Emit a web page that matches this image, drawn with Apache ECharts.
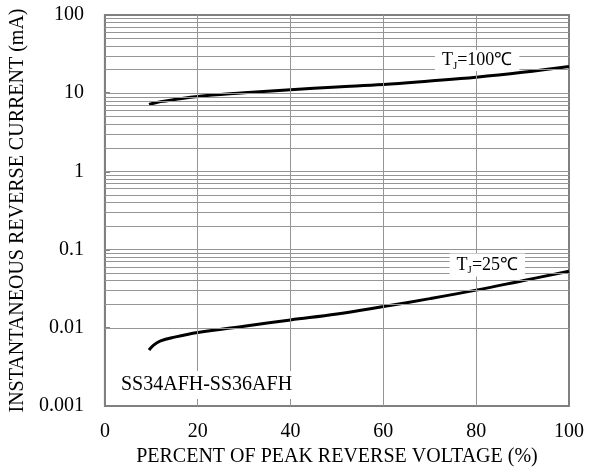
<!DOCTYPE html>
<html><head><meta charset="utf-8">
<script src="https://cdn.jsdelivr.net/npm/echarts@6/dist/echarts.min.js"></script>
<style>html,body{margin:0;padding:0;background:#fff}#c{width:597px;height:472px}</style>
</head><body><div id="c"></div>
<script>
// Percent of peak reverse voltage (%)
var pct = [9.5, 10.5, 12, 15, 20, 30, 40, 50, 60, 70, 80, 90, 100];
// Tj = 100 C reverse current (mA)
var i100 = [7.2, 7.45, 7.8, 8.3, 9.1, 10.1, 11.1, 12.0, 12.9, 14.3, 16.0, 18.5, 22];
// Tj = 25 C reverse current (mA)
var i25 = [0.0052, 0.0060, 0.0068, 0.0076, 0.0087, 0.0105, 0.0126, 0.0150, 0.0187, 0.0236, 0.0303, 0.040, 0.053];
var xTicks = [0, 20, 40, 60, 80, 100];
var yDecades = [0.001, 0.01, 0.1, 1, 10, 100];
var yMinorMult = [2, 3, 4, 5, 6, 7, 8, 9];
var label100 = {x: 80.2, y: 26.1, text: '{n|T}{s|J}{n|=100℃}'};
var label25 = {x: 82.4, y: 0.0634, text: '{n|T}{s|J}{n|=25℃}'};
var partLabel = {x: 21.9, y: 0.00185, text: 'SS34AFH-SS36AFH'};

var FONT = 'Liberation Serif';
var gridColor = '#959595';

var hLines = [];
for (var d = 0; d < yDecades.length - 1; d++) {
  hLines.push({yAxis: yDecades[d]});
  yMinorMult.forEach(function (m) { hLines.push({yAxis: +(yDecades[d] * m).toPrecision(3)}); });
}
var vLines = xTicks.slice(1, -1).map(function (v) { return {xAxis: v}; });

function zip(xs, ys) { return xs.map(function (x, i) { return [x, ys[i]]; }); }

var rich = {
  n: {fontFamily: FONT, fontSize: 18, color: '#000'},
  s: {fontFamily: FONT, fontSize: 11, color: '#000', padding: [10, 0, 0, 0]}
};

var chart = echarts.init(document.getElementById('c'), null, {renderer: 'canvas'});
chart.setOption({
  animation: false,
  backgroundColor: '#fff',
  grid: {left: 104, right: 28, top: 15, bottom: 63, show: true, borderColor: '#808080', borderWidth: 2},
  xAxis: {
    type: 'value', min: 0, max: 100, interval: 20,
    name: 'PERCENT OF PEAK REVERSE VOLTAGE (%)', nameLocation: 'middle', nameGap: 41,
    nameTextStyle: {fontFamily: FONT, fontSize: 20, color: '#000'},
    axisLine: {show: true, lineStyle: {color: '#808080', width: 2}},
    axisTick: {show: false},
    axisLabel: {fontFamily: FONT, fontSize: 20, color: '#000', margin: 16},
    splitLine: {show: false}
  },
  yAxis: {
    type: 'log', logBase: 10, min: 0.001, max: 100,
    name: 'INSTANTANEOUS REVERSE CURRENT (mA)', nameLocation: 'middle', nameGap: 66,
    nameTextStyle: {fontFamily: FONT, fontSize: 20, color: '#000'},
    axisLine: {show: true, lineStyle: {color: '#808080', width: 2}},
    axisTick: {show: true, inside: true, length: 5, lineStyle: {color: '#808080', width: 2}},
    axisLabel: {fontFamily: FONT, fontSize: 20, color: '#000', margin: 21,
      formatter: function (v) { return String(+v.toPrecision(3)); }},
    splitLine: {show: false}
  },
  series: [
    {
      type: 'line', data: [], z: 1, silent: true,
      markLine: {
        silent: true, symbol: 'none', label: {show: false}, animation: false,
        lineStyle: {color: gridColor, width: 1, type: 'solid'},
        data: hLines.concat(vLines)
      }
    },
    {
      type: 'line', data: zip(pct, i100), smooth: 0.4, showSymbol: false, z: 3,
      lineStyle: {color: '#000', width: 3},
      markPoint: {
        symbol: 'circle', symbolSize: 1, itemStyle: {color: 'rgba(0,0,0,0)'}, silent: true,
        data: [
          {coord: [label100.x, label100.y], value: 0,
            label: {show: true, position: 'inside', formatter: label100.text, backgroundColor: '#fff',
              padding: [0, 7, 0, 7], rich: rich}}
        ]
      }
    },
    {
      type: 'line', data: zip(pct, i25), smooth: 0.4, showSymbol: false, z: 3,
      lineStyle: {color: '#000', width: 3},
      markPoint: {
        symbol: 'circle', symbolSize: 1, itemStyle: {color: 'rgba(0,0,0,0)'}, silent: true,
        data: [
          {coord: [label25.x, label25.y], value: 0,
            label: {show: true, position: 'inside', formatter: label25.text, backgroundColor: '#fff',
              padding: [1, 7, 1, 7], rich: rich}},
          {coord: [partLabel.x, partLabel.y], value: 0,
            label: {show: true, position: 'inside', formatter: partLabel.text, backgroundColor: '#fff',
              padding: [4, 8, 4, 8], fontFamily: FONT, fontSize: 20, color: '#000'}}
        ]
      }
    }
  ]
});
</script></body></html>
